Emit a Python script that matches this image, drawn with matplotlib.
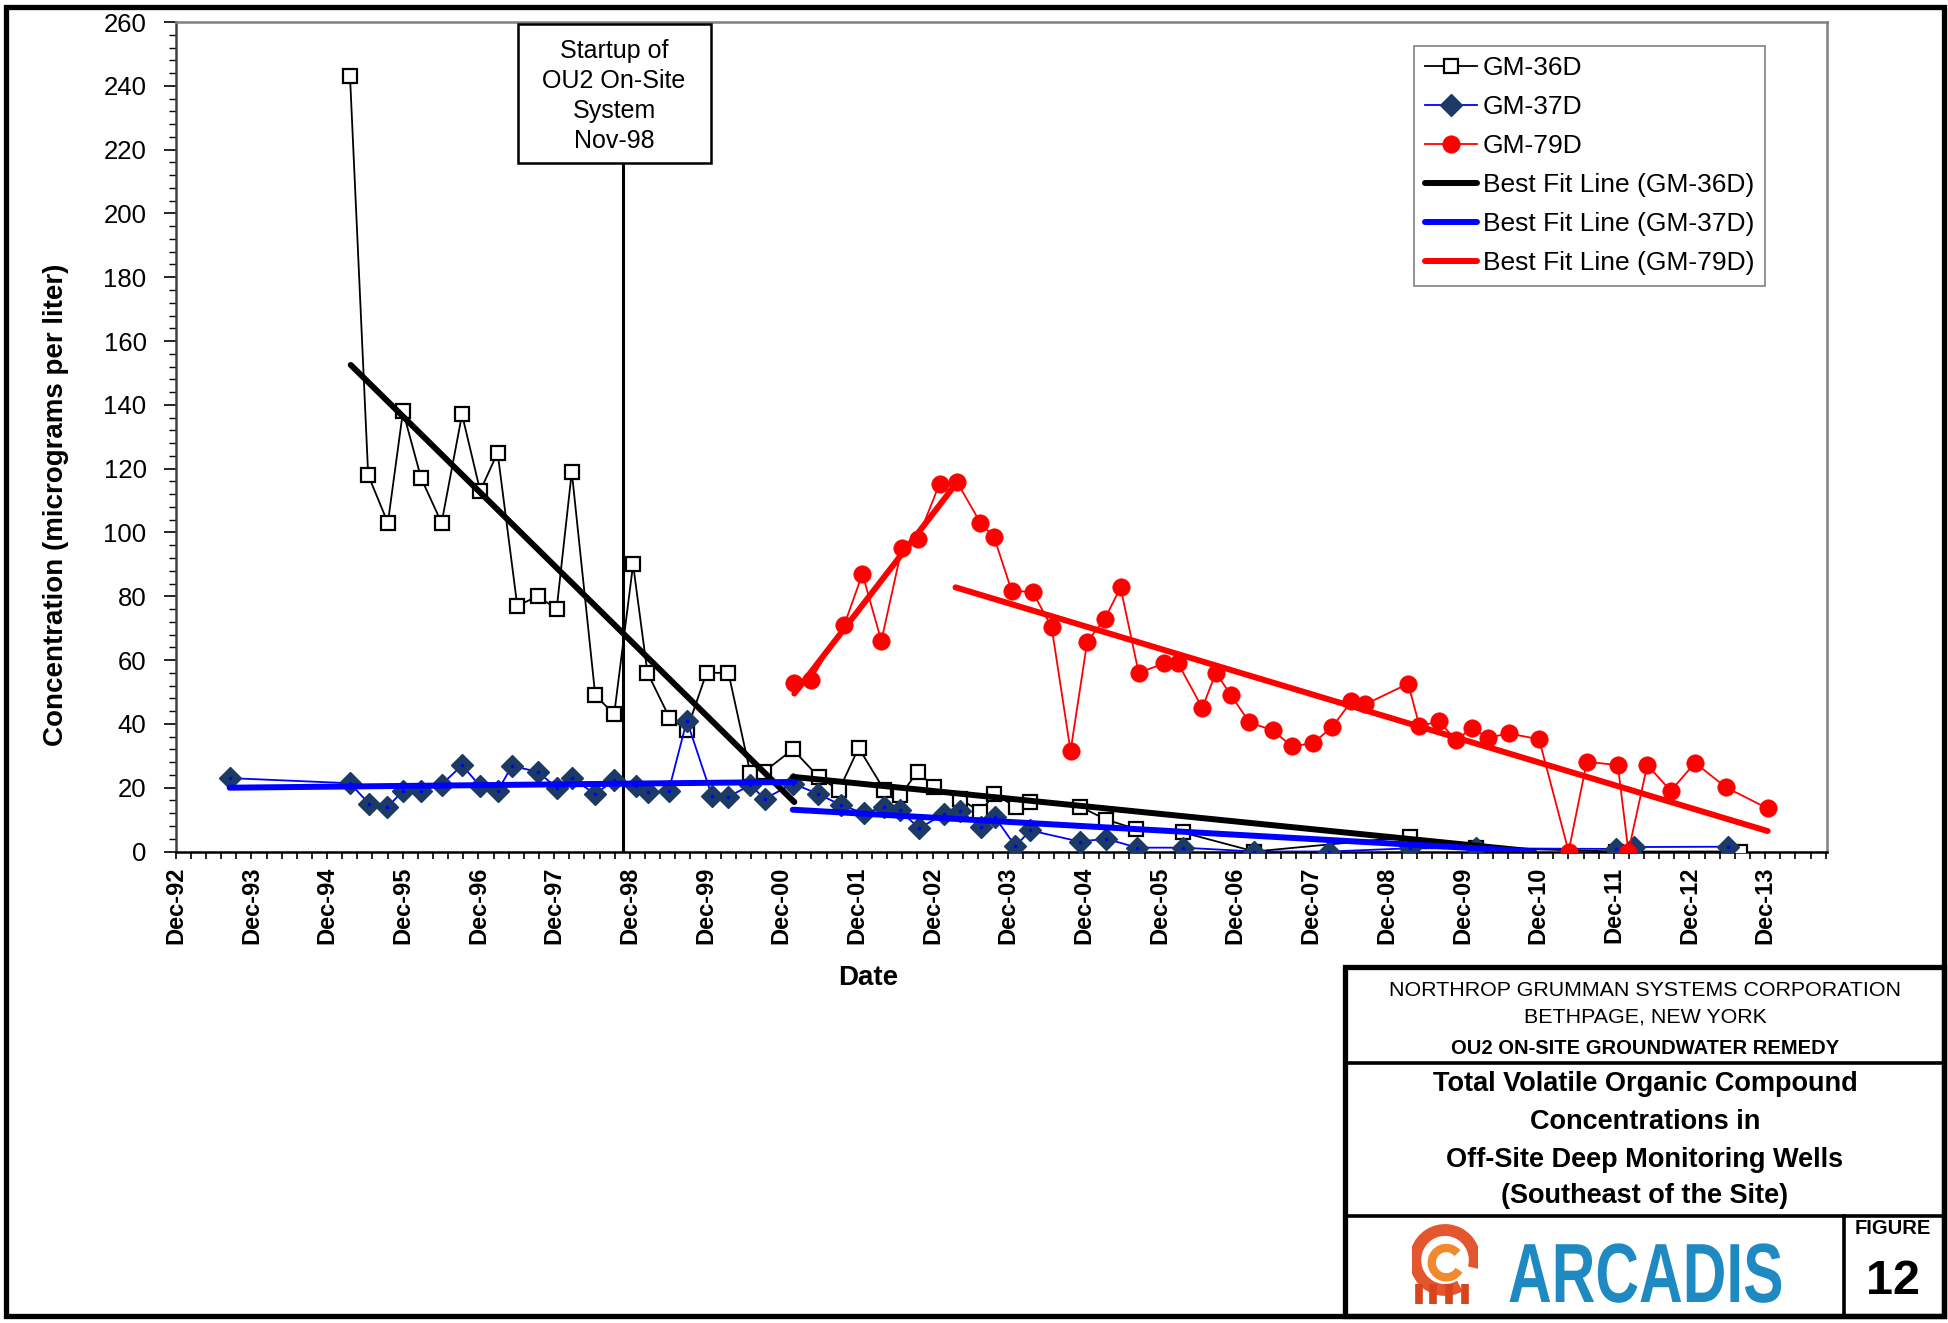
import numpy as np
import matplotlib.pyplot as plt
from matplotlib.patches import Rectangle, Arc, PathPatch
from matplotlib.lines import Line2D
from matplotlib.textpath import TextPath
from matplotlib.font_manager import FontProperties
from matplotlib.transforms import Affine2D, IdentityTransform
from matplotlib.ticker import FixedLocator, MultipleLocator

plt.rcParams['font.family'] = ['Liberation Sans', 'DejaVu Sans']

# sample dates as decimal years, concentrations in ug/L
gm36_date = [1995.22, 1995.46, 1995.72, 1995.92, 1996.16, 1996.43, 1996.70, 1996.94,
             1997.17, 1997.43, 1997.70, 1997.95, 1998.15, 1998.46, 1998.71, 1998.96,
             1999.15, 1999.44, 1999.67, 1999.93, 2000.22, 2000.51, 2000.69, 2001.07,
             2001.41, 2001.68, 2001.94, 2002.28, 2002.49, 2002.72, 2002.94, 2003.28,
             2003.55, 2003.73, 2004.02, 2004.21, 2004.87, 2005.21, 2005.61, 2006.22,
             2007.17, 2009.22, 2010.10, 2011.95, 2012.20, 2013.58]
gm36_conc = [243, 118, 103, 138, 117, 103, 137, 113,
             125, 77, 80, 76, 119, 49, 43, 90,
             56, 42, 38, 56, 56, 24.5, 25, 32,
             23.4, 19.2, 32.5, 19.2, 17.6, 25, 20.2, 16.5,
             12.4, 18, 14, 15.5, 14, 10, 7, 6,
             0, 4.6, 1.2, 0, 0, 0]

gm37_date = [1993.63, 1995.22, 1995.47, 1995.71, 1995.92, 1996.16, 1996.43, 1996.70,
             1996.94, 1997.17, 1997.36, 1997.70, 1997.95, 1998.15, 1998.46, 1998.71,
             1999.00, 1999.16, 1999.43, 1999.67, 2000.00, 2000.22, 2000.51, 2000.70,
             2001.07, 2001.40, 2001.71, 2002.01, 2002.28, 2002.48, 2002.74, 2003.07,
             2003.28, 2003.56, 2003.74, 2004.01, 2004.21, 2004.86, 2005.21, 2005.62,
             2006.23, 2007.17, 2008.16, 2009.22, 2010.10, 2011.95, 2012.19, 2013.43]
gm37_conc = [23, 21.4, 15, 13.8, 19, 19, 21, 27,
             20.5, 19, 26.8, 25, 20, 23, 18, 22.4,
             20.5, 18.5, 19, 41, 17.5, 17.2, 20.8, 16.5,
             21.3, 18.1, 14.5, 12, 13.9, 12.9, 7.3, 11.8,
             12.7, 7.6, 10.8, 1.7, 6.6, 3.1, 4, 1.2,
             1.2, 0, 0, 1.0, 1.0, 0.8, 1.4, 1.5]

gm79_date = [2001.09, 2001.31, 2001.75, 2001.99, 2002.24, 2002.51, 2002.72, 2003.01,
             2003.24, 2003.55, 2003.73, 2003.96, 2004.24, 2004.49, 2004.74, 2004.96,
             2005.19, 2005.40, 2005.64, 2005.98, 2006.16, 2006.48, 2006.66, 2006.86,
             2007.10, 2007.41, 2007.66, 2007.94, 2008.20, 2008.45, 2008.63, 2009.20,
             2009.35, 2009.61, 2009.83, 2010.04, 2010.26, 2010.53, 2010.93, 2011.32,
             2011.56, 2011.97, 2012.11, 2012.36, 2012.67, 2012.99, 2013.40, 2013.95]
gm79_conc = [52.9, 53.9, 71, 87, 66, 95, 98, 115.3,
             115.8, 103, 98.5, 81.8, 81.3, 70.3, 31.5, 65.8,
             72.8, 82.8, 56, 59, 59, 45, 56, 49,
             40.5, 38, 33, 33.9, 39.1, 47.1, 46.1, 52.6,
             39.3, 40.8, 34.9, 38.6, 35.7, 37, 35.2, 0,
             28.1, 27.1, 0, 27.1, 19, 27.8, 20.1, 13.5]

# best fit lines: two segments each (before / after), nan splits them
fit36_date = [1995.23, 2001.09, np.nan, 2001.07, 2010.86]
fit36_conc = [152.5, 15.5, np.nan, 23.4, 0]
fit37_date = [1993.63, 2001.09, np.nan, 2001.07, 2010.85]
fit37_conc = [20.0, 21.8, np.nan, 13.1, 0]
fit79_date = [2001.09, 2003.25, np.nan, 2003.22, 2013.95]
fit79_conc = [49.5, 116, np.nan, 82.8, 6.4]

startup_date = 1998.83
tick_dates = [1992.917 + k for k in range(22)]
tick_labels = ['Dec-%02d' % ((92 + k) % 100) for k in range(22)]

W, H = 1949, 1323
def fx(px):
    return px / W
def fy(py):
    return 1 - py / H

fig = plt.figure(figsize=(W / 100, H / 100), dpi=100)
ax = fig.add_axes([fx(175.7), fy(851.5), (1826.7 - 175.7) / W, (851.5 - 22) / H])

ax.plot(gm36_date, gm36_conc, color='black', lw=1.3, marker='s', ms=10,
        mfc='white', mec='black', mew=1.6, label='GM-36D', zorder=3)
ax.plot(gm37_date, gm37_conc, color='#0000ff', lw=1.3, marker='D', ms=11,
        mfc='#1b3a66', mec='#1b3a66', mew=1, label='GM-37D', zorder=4)
ax.plot(gm37_date, gm37_conc, ls='none', marker='.', ms=3, color='#0000ff', zorder=4.1)
ax.plot(gm79_date, gm79_conc, color='#ff0000', lw=1.3, marker='o', ms=12.5,
        mfc='#ff0000', mec='#ff0000', mew=0.5, label='GM-79D', zorder=5)
ax.plot(fit36_date, fit36_conc, color='black', lw=4.3, solid_capstyle='round',
        label='Best Fit Line (GM-36D)', zorder=6)
ax.plot(fit37_date, fit37_conc, color='#0000ff', lw=4.3, solid_capstyle='round',
        label='Best Fit Line (GM-37D)', zorder=6)
ax.plot(fit79_date, fit79_conc, color='#ff0000', lw=4.3, solid_capstyle='round',
        label='Best Fit Line (GM-79D)', zorder=6)

# startup marker
ax.axvline(startup_date, ymin=0, ymax=(851.5 - 162.7) / 829.5, color='black', lw=2.2, zorder=2)
ax.add_patch(Rectangle(((517.7 - 175.7) / 1651, (851.5 - 162.7) / 829.5),
                       (711 - 517.7) / 1651, (162.7 - 24.3) / 829.5,
                       transform=ax.transAxes, fc='white', ec='black', lw=1.8, zorder=7))
ax.text((614 - 175.7) / 1651, (851.5 - 96) / 829.5,
        'Startup of\nOU2 On-Site\nSystem\nNov-98', transform=ax.transAxes,
        ha='center', va='center', fontsize=18, linespacing=1.3, zorder=8)

ax.set_xlim(1992.917, 2014.73)
ax.set_ylim(0, 260)
ax.xaxis.set_major_locator(FixedLocator(tick_dates))
ax.set_xticklabels(tick_labels, rotation=90, fontweight='bold', fontsize=17)
ax.xaxis.set_minor_locator(FixedLocator(np.arange(1992.917, 2014.74, 0.2)))
ax.yaxis.set_major_locator(MultipleLocator(20))
ax.yaxis.set_minor_locator(MultipleLocator(4))
ax.tick_params(axis='x', which='both', direction='out', length=5, width=1.2, pad=6)
ax.tick_params(axis='y', which='major', direction='out', length=9, width=1.2, pad=12, labelsize=18.5)
ax.tick_params(axis='y', which='minor', direction='out', length=5, width=1.0)
for side in ['top', 'right']:
    ax.spines[side].set_color('#808080')
    ax.spines[side].set_linewidth(1.8)
ax.spines['left'].set_color('#404040')
ax.spines['left'].set_linewidth(1.8)
ax.spines['bottom'].set_color('black')
ax.spines['bottom'].set_linewidth(1.8)

fig.text(fx(56), fy(505), 'Concentration (micrograms per liter)', rotation=90,
         ha='center', va='center', fontsize=20, fontweight='bold')
fig.text(fx(868), fy(978), 'Date', ha='center', va='center', fontsize=20, fontweight='bold')

leg = ax.legend(loc='upper left', bbox_to_anchor=(fx(1414), fy(45.7)),
                bbox_transform=fig.transFigure, fontsize=19, frameon=True,
                fancybox=False, edgecolor='#808080', framealpha=1,
                handlelength=2.0, handletextpad=0.2, labelspacing=0.57,
                borderpad=0.4, borderaxespad=0)
leg.get_frame().set_linewidth(1.2)
leg.set_zorder(10)

# frame and title block
tf = fig.transFigure
fig.add_artist(Rectangle((fx(6.5), fy(1316)), fx(1944) - fx(6.5), fy(6.5) - fy(1316),
                         transform=tf, fill=False, ec='black', lw=3.8))
fig.add_artist(Rectangle((fx(1345), fy(1316)), fx(1944) - fx(1345), fy(967) - fy(1316),
                         transform=tf, fill=False, ec='black', lw=3.8))
for yy in [1063, 1216]:
    fig.add_artist(Line2D([fx(1345), fx(1944)], [fy(yy), fy(yy)], transform=tf, color='black', lw=2.6))
fig.add_artist(Line2D([fx(1844), fx(1844)], [fy(1216), fy(1316)], transform=tf, color='black', lw=2.6))

fig.text(fx(1645), fy(990), 'NORTHROP GRUMMAN SYSTEMS CORPORATION', ha='center', va='center', fontsize=15.4)
fig.text(fx(1645), fy(1017), 'BETHPAGE, NEW YORK', ha='center', va='center', fontsize=15.4)
fig.text(fx(1645), fy(1048), 'OU2 ON-SITE GROUNDWATER REMEDY', ha='center', va='center',
         fontsize=14.5, fontweight='bold')
title_lines = ['Total Volatile Organic Compound', 'Concentrations in',
               'Off-Site Deep Monitoring Wells', '(Southeast of the Site)']
for yy, line in zip([1084, 1122, 1160, 1196], title_lines):
    fig.text(fx(1645), fy(yy), line, ha='center', va='center', fontsize=19.5, fontweight='bold')
fig.text(fx(1893), fy(1229), 'FIGURE', ha='center', va='center', fontsize=14.5, fontweight='bold')
fig.text(fx(1893), fy(1282), '12', ha='center', va='center', fontsize=35, fontweight='bold')

# ARCADIS word mark, condensed
tp = TextPath((0, 0), 'ARCADIS', size=84, prop=FontProperties(family='Liberation Sans', weight='bold'))
fig.add_artist(PathPatch(tp, transform=Affine2D().scale(0.72, 1).translate(1508, H - 1302) + IdentityTransform(),
                         fc='#1f89c1', ec='none'))

# logo swirl
lax = fig.add_axes([fx(1412), fy(1304), (1478 - 1412) / W, (1304 - 1224) / H])
lax.set_xlim(0, 1)
lax.set_ylim(0, 1.2)
lax.axis('off')
lax.add_patch(Arc((0.5, 0.66), 0.9, 0.9, theta1=-15, theta2=300, lw=8.5, color='#e4572e'))
lax.add_patch(Arc((0.52, 0.62), 0.44, 0.44, theta1=40, theta2=330, lw=6, color='#f08a2c'))
for lx in [0.1, 0.32, 0.56, 0.8]:
    lax.plot([lx, lx], [0.0, 0.3], color='#d9431e', lw=5.5, solid_capstyle='butt')

fig.savefig('out.png', dpi=100)
